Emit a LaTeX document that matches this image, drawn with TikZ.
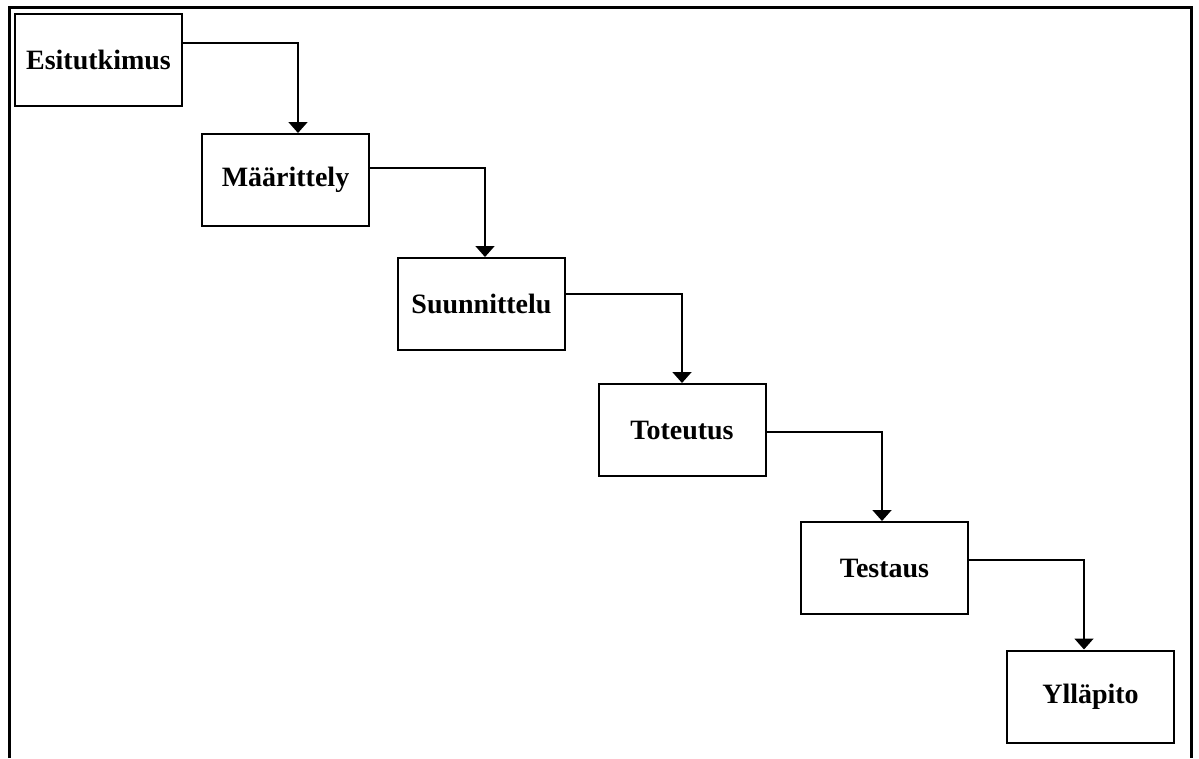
\documentclass[tikz,border=0pt]{standalone}
\usepackage{fontspec}
\setmainfont{Liberation Serif}
\usetikzlibrary{arrows.meta}
\tikzset{
  phase/.style={draw, line width=2pt, minimum width=167pt, minimum height=92pt, inner sep=0pt,
    font=\fontsize{28}{31}\selectfont\bfseries},
  flow/.style={line width=1.8pt, -{Triangle[width=19pt,length=11pt]}},
  frame/.style={line width=3pt}
}
\begin{document}
\begin{tikzpicture}[x=1pt,y=-1pt]
\useasboundingbox (0,0) rectangle (1199,758);
\draw[frame] (9,758) -- (9,7) -- (1191.5,7) -- (1191.5,758);
\node[phase] (b1) at (98.5,59.5) {Esitutkimus};
\node[phase] (b2) at (285.5,180) {Määrittely};
\node[phase] (b3) at (481.5,304) {Suunnittelu};
\node[phase] (b4) at (682,430) {Toteutus};
\node[phase] (b5) at (884.5,568) {Testaus};
\node[phase] (b6) at (1090.5,696.5) {Ylläpito};
\draw[flow] (b1.east |- 0,43) -| (b2.north -| 298,0);
\draw[flow] (b2.east |- 0,168) -| (b3.north -| 485,0);
\draw[flow] (b3.east |- 0,294) -| (b4.north -| 682,0);
\draw[flow] (b4.east |- 0,432) -| (b5.north -| 882,0);
\draw[flow] (b5.east |- 0,560) -| (b6.north -| 1084,0);
\end{tikzpicture}
\end{document}
